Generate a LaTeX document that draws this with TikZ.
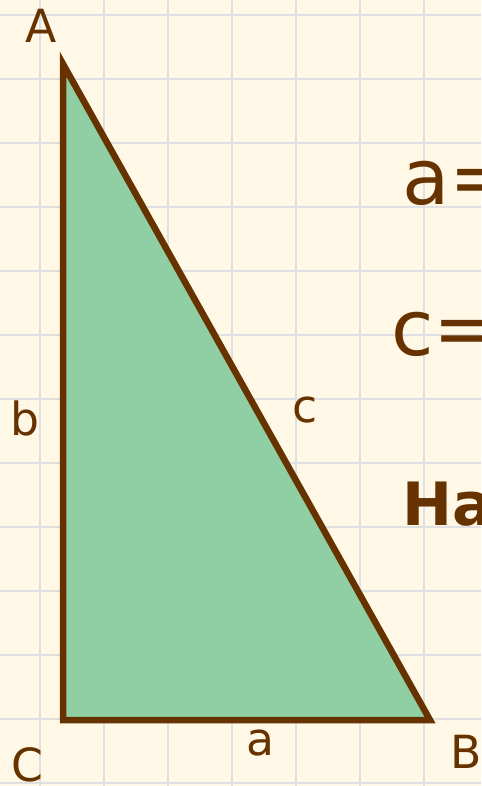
\documentclass[tikz,border=0pt]{standalone}
\usepackage{fontspec}
\setmainfont{DejaVu Sans}
\definecolor{PaperCream}{RGB}{255,248,230}
\definecolor{GridGrey}{RGB}{224,224,226}
\definecolor{LeafGreen}{RGB}{144,207,163}
\definecolor{EarthBrown}{RGB}{102,51,0}
\tikzset{
  gridline/.style={GridGrey,line width=1.2pt},
  side/.style={draw=EarthBrown,fill=LeafGreen,line width=3.7pt,line join=miter},
  vertex/.style={text=EarthBrown,inner sep=0pt,anchor=base,
    font=\fontsize{26}{30}\selectfont},
  formula/.style={text=EarthBrown,inner sep=0pt,anchor=base west,
    font=\fontsize{44}{50}\selectfont}
}

\begin{document}
\begin{tikzpicture}[x=0.02cm,y=-0.02cm]
  \clip (0,0) rectangle (481,786);
  \fill[PaperCream] (0,0) rectangle (481,786);
  \foreach \gx in {40,104,...,424} \draw[gridline] (\gx,0) -- (\gx,786);
  \foreach \gy in {15,79,...,783} \draw[gridline] (0,\gy) -- (481,\gy);
  \coordinate (A) at (63,64);
  \coordinate (C) at (63,720);
  \coordinate (B) at (430,720);
  \draw[side] (A) -- (B) -- (C) -- cycle;
  \node[vertex] (labA) at (41.5,43) {A};
  \node[vertex] (labB) at (466,768) {B};
  \node[vertex] (labC) at (27,781) {C};
  \node[vertex] (laba) at (260,755) {a};
  \node[vertex] (labb) at (25,435) {b};
  \node[vertex] (labc) at (305,422) {c};
  \node[formula] (eqa) at (402,205) {a=};
  \node[formula] (eqc) at (391,356) {c=};
  \node[formula,font=\bfseries\fontsize{34}{40}\selectfont] (hint) at (402,525) {Ha};
\end{tikzpicture}
\end{document}
